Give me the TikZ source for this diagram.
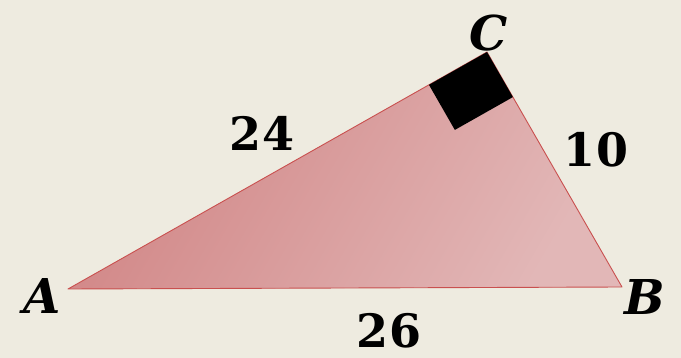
\documentclass[tikz,border=0pt]{standalone}
\usepackage{fontspec}
\setmainfont{DejaVu Serif}
\usepackage{tikz}
\usetikzlibrary{calc}
\usepackage{xcolor}
\definecolor{paperbg}{HTML}{EEEBE0}
\definecolor{triedge}{HTML}{C9504F}
\definecolor{trileft}{HTML}{D18585}
\definecolor{triright}{HTML}{E2B7B7}

\tikzset{
    vertexlabel/.style={font=\bfseries\itshape\fontsize{48}{48}\selectfont, inner sep=0pt},
    sidelabel/.style={font=\bfseries\fontsize{46}{46}\selectfont, inner sep=0pt}
}

\begin{document}
\begin{tikzpicture}[x=1pt, y=-1pt]
    \fill[paperbg] (0,0) rectangle (681,358);
    \useasboundingbox (0,0) rectangle (681,358);

    \coordinate (A) at (68,289);
    \coordinate (B) at (622,287);
    \coordinate (C) at (487,52);

    % triangle
    \shade[left color=trileft, right color=triright, shading angle=60] (A) -- (B) -- (C) -- cycle;
    \draw[triedge, line width=0.9pt, line join=round] (A) -- (B) -- (C) -- cycle;

    % right angle mark
    \coordinate (ca) at ($(C)!66.7pt!(A)$);
    \coordinate (cb) at ($(C)!52pt!(B)$);
    \fill[black] (C) -- (ca) -- ($(ca)+(cb)-(C)$) -- (cb) -- cycle;

    % labels
    \node[vertexlabel] (labA) at (42,296) {A};
    \node[vertexlabel] (labB) at (645,297) {B};
    \node[vertexlabel] (labC) at (489,33) {C};
    \node[sidelabel] (sideAC) at (262,133) {24};
    \node[sidelabel] (sideBC) at (596,150) {10};
    \node[sidelabel] (sideAB) at (389,331) {26};
\end{tikzpicture}
\end{document}
